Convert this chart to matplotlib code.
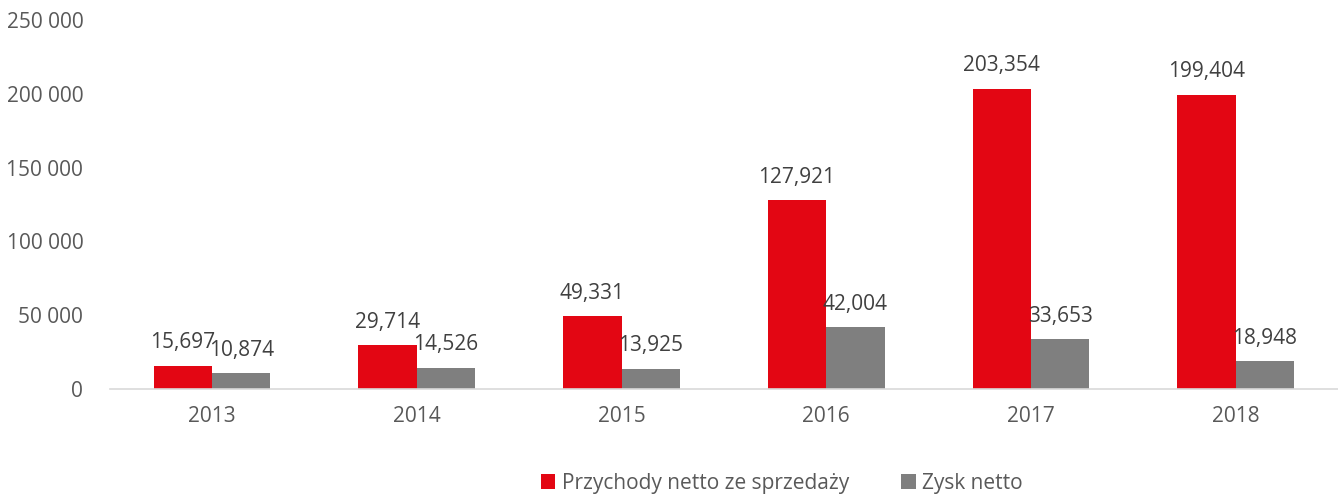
import numpy as np
import matplotlib.pyplot as plt
from matplotlib.ticker import FuncFormatter

years = ["2013", "2014", "2015", "2016", "2017", "2018"]
przychody = [15697, 29714, 49331, 127921, 203354, 199404]
zysk = [10874, 14526, 13925, 42004, 33653, 18948]

plt.rcParams['font.family'] = ['Open Sans', 'DejaVu Sans']
txt = '#404040'
tick_txt = '#595959'

fig = plt.figure(figsize=(13.38, 4.95), dpi=100)
ax = fig.add_axes([0.082, 0.214, 0.918, 0.746])

x = np.arange(len(years))
w = 0.285
b1 = ax.bar(x - w / 2, przychody, w, color='#E30613', label='Przychody netto ze sprzedaży')
b2 = ax.bar(x + w / 2, zysk, w, color='#7F7F7F', label='Zysk netto')

for bars in (b1, b2):
    for r in bars:
        v = r.get_height()
        ax.annotate(f"{v:,.0f}", (r.get_x() + r.get_width() / 2, v),
                    xytext=(0, 9), textcoords='offset points',
                    ha='center', va='bottom', fontsize=15, color=txt)

ax.set_xlim(-0.5, len(years) - 0.5)
ax.set_ylim(0, 250000)
ax.set_yticks(range(0, 250001, 50000))
ax.yaxis.set_major_formatter(FuncFormatter(lambda v, p: f"{v:,.0f}".replace(',', ' ')))
ax.set_xticks(x)
ax.set_xticklabels(years)

for s in ['top', 'right', 'left']:
    ax.spines[s].set_visible(False)
ax.spines['bottom'].set_color('#D9D9D9')
ax.spines['bottom'].set_linewidth(1.2)
ax.tick_params(length=0, labelsize=15, colors=tick_txt)
ax.tick_params(axis='x', pad=12)
ax.tick_params(axis='y', pad=19)

ax.legend(loc='lower center', bbox_to_anchor=(0.547, -0.335), ncol=2, frameon=False,
          fontsize=15, labelcolor=tick_txt, handlelength=0.7, handleheight=0.7,
          handletextpad=0.3, columnspacing=2.5)

fig.savefig('out.png', dpi=100)
